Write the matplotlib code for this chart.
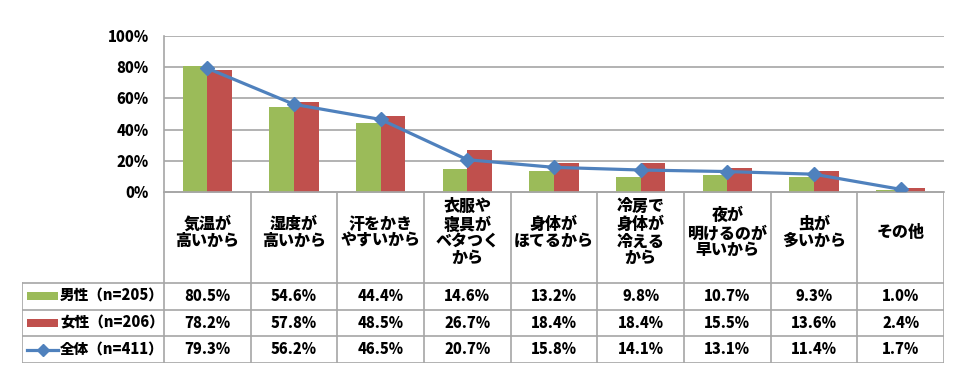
import matplotlib.pyplot as plt
import numpy as np

plt.rcParams['font.family'] = ['Noto Sans CJK JP', 'DejaVu Sans']
plt.rcParams['font.weight'] = 'heavy'

# data
categories = ['気温が\n高いから', '湿度が\n高いから', '汗をかき\nやすいから',
              '衣服や\n寝具が\nベタつく\nから', '身体が\nほてるから',
              '冷房で\n身体が\n冷える\nから', '夜が\n明けるのが\n早いから',
              '虫が\n多いから', 'その他']
male = [80.5, 54.6, 44.4, 14.6, 13.2, 9.8, 10.7, 9.3, 1.0]
female = [78.2, 57.8, 48.5, 26.7, 18.4, 18.4, 15.5, 13.6, 2.4]
total = [79.3, 56.2, 46.5, 20.7, 15.8, 14.1, 13.1, 11.4, 1.7]
series_names = ['男性（n=205）', '女性（n=206）', '全体（n=411）']
yticks = [0, 20, 40, 60, 80, 100]

green = '#9BBB59'
red = '#C0504D'
blue = '#4F81BD'
grid = '#A6A6A6'
fw = 'heavy'

W, H = 960, 376
fig = plt.figure(figsize=(W / 100, H / 100), dpi=100)

# plot area in pixels
left, right, top, bottom = 164, 944, 36, 192
ax = fig.add_axes([left / W, (H - bottom) / H, (right - left) / W, (bottom - top) / H])

x = np.arange(len(categories))
bw = 0.285
ax.bar(x - bw / 2, male, bw, color=green, zorder=2)
ax.bar(x + bw / 2, female, bw, color=red, zorder=2)
ax.plot(x, total, color=blue, lw=2.3, marker='D', ms=7, zorder=3)

ax.set_xlim(-0.5, len(categories) - 0.5)
ax.set_ylim(0, 100)
ax.set_yticks(yticks)
ax.set_yticklabels([f'{v}%' for v in yticks], fontsize=10.5, fontweight=fw)
ax.set_xticks([])
ax.tick_params(axis='y', length=0, pad=11)
ax.grid(axis='y', color=grid, lw=1.2, zorder=0)
for s in ['top', 'right']:
    ax.spines[s].set_visible(False)
ax.spines['left'].set_color(grid)
ax.spines['bottom'].set_color(grid)
ax.spines['left'].set_linewidth(1.2)
ax.spines['bottom'].set_linewidth(1.2)

# data table underneath
tleft, tbottom = 22, 363
cat_w = (right - left) / len(categories)
row_h = (tbottom - 283) / 3
head_h = (283 - bottom) / row_h
tx = fig.add_axes([tleft / W, (H - tbottom) / H, (right - tleft) / W, (tbottom - bottom) / H])
leg_w = (left - tleft) / cat_w
tx.set_xlim(-0.5 - leg_w, len(categories) - 0.5)
tx.set_ylim(3, -head_h)
tx.axis('off')

lc = dict(color=grid, lw=1.2)
n = len(categories)
# vertical lines
for k in range(n + 1):
    tx.plot([k - 0.5, k - 0.5], [-head_h, 3], **lc)
tx.plot([-0.5 - leg_w] * 2, [0, 3], **lc)
# horizontal lines
tx.plot([-0.5, n - 0.5], [-head_h, -head_h], **lc)
for r in range(4):
    tx.plot([-0.5 - leg_w, n - 0.5], [r, r], **lc)

for i, c in enumerate(categories):
    tx.text(i, -head_h / 2 - 0.2, c, ha='center', va='center', fontsize=11.5,
            fontweight=fw, linespacing=1.15)

for r, vals in enumerate([male, female, total]):
    for i, v in enumerate(vals):
        tx.text(i, r + 0.5, f'{v:.1f}%', ha='center', va='center', fontsize=10.5,
                fontweight=fw)

# legend keys
kx0 = -0.5 - leg_w + 5 / cat_w
kx1 = kx0 + 31 / cat_w
tx.fill_between([kx0, kx1], 0.35, 0.65, color=green, lw=0)
tx.fill_between([kx0, kx1], 1.35, 1.65, color=red, lw=0)
tx.plot([kx0, kx1], [2.5, 2.5], color=blue, lw=2.3)
tx.plot([(kx0 + kx1) / 2], [2.5], color=blue, marker='D', ms=6)
for r, name in enumerate(series_names):
    tx.text(kx1 + 2 / cat_w, r + 0.5, name, ha='left', va='center', fontsize=10.5,
            fontweight=fw)

fig.savefig('out.png', dpi=100)
